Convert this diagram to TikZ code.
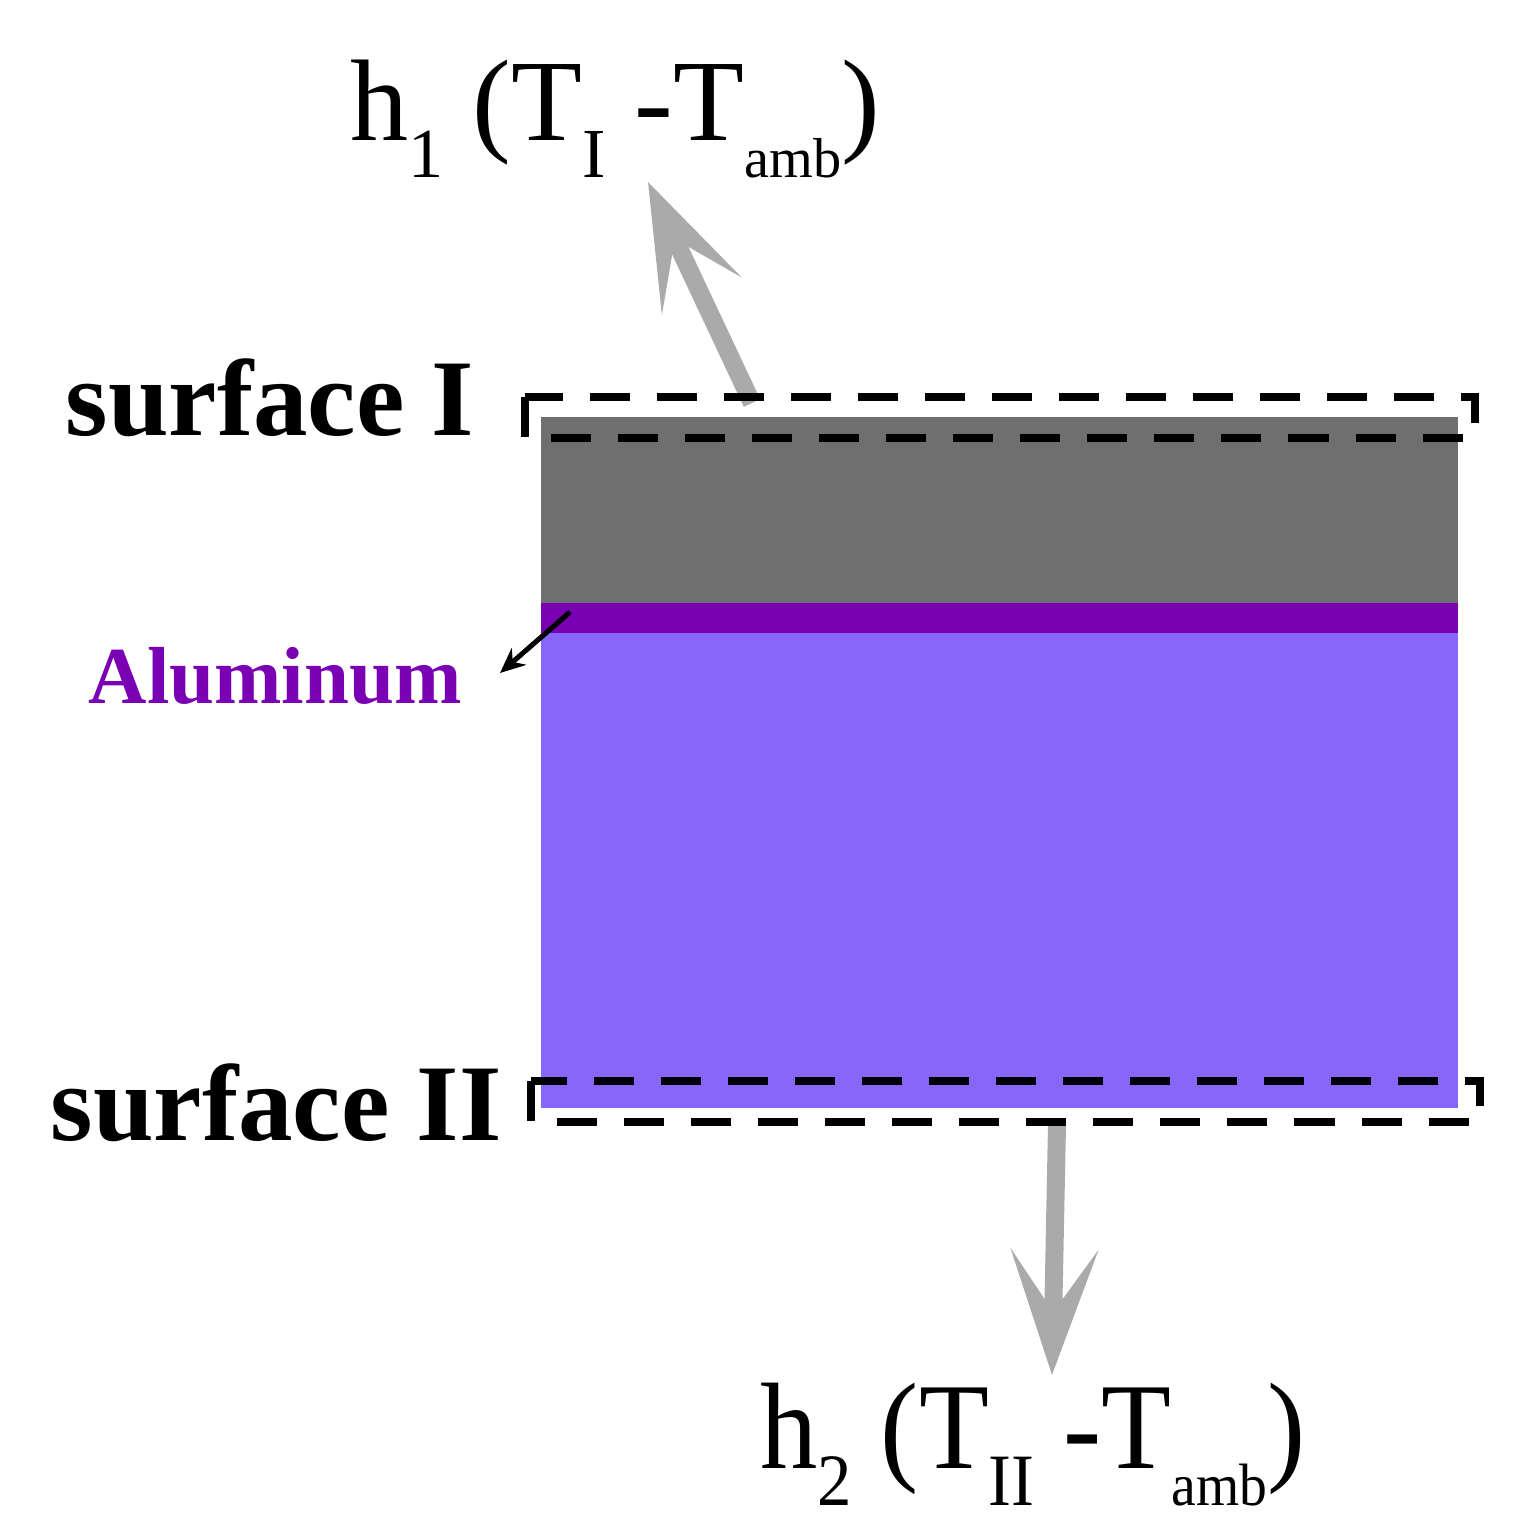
\documentclass[tikz,border=0pt]{standalone}
\usepackage{fontspec}
\setmainfont{Liberation Serif}
\usepackage{graphicx}
\usetikzlibrary{arrows.meta}

\definecolor{topgray}{RGB}{111,111,111}
\definecolor{alband}{RGB}{122,0,180}
\definecolor{baselayer}{RGB}{137,102,250}
\definecolor{heatgray}{RGB}{170,170,170}

\newcommand{\lowsub}[2]{\raisebox{-0.37cm}{\fontsize{#1}{#1}\selectfont #2}}

\begin{document}
\begin{tikzpicture}[x=0.01cm,y=-0.01cm,
  dashbox/.style={draw=black,line width=0.085cm,dash pattern=on 0.4cm off 0.27cm},
  heatflow/.style={heatgray,line width=0.18cm,-{Stealth[length=1.25cm,width=0.87cm,inset=0.62cm]}},
  txt/.style={inner sep=0pt,anchor=base west}]
       \useasboundingbox (0,0) rectangle (1516,1533);
       % Draw the layers
       \fill[topgray] (541,417) rectangle (1458,603);
       \fill[alband] (541,603) rectangle (1458,633);
       \fill[baselayer] (541,633) rectangle (1458,1108);
       % Labels
       \node[txt] (surf_1) at (65,435) {\fontsize{31}{31}\selectfont\bfseries surface I};
       \node[txt] (surf_2) at (50,1140) {\fontsize{31}{31}\selectfont\bfseries surface II};
       \node[txt,text=alband] (al) at (88,703) {\fontsize{23}{23}\selectfont\bfseries Aluminum};
       \node[txt] (flux_1) at (350,140) {\fontsize{33}{33}\selectfont h\lowsub{20}{1} (T\lowsub{20}{I} -T\lowsub{16}{amb})};
       \node[txt] (flux_2) at (760,1468) {\scalebox{0.93}[1]{\fontsize{35}{35}\selectfont h\lowsub{21}{2} (T\lowsub{21}{II} -T\lowsub{17}{amb})}};
       % Draw heat flow arrows
       \coordinate (q_1) at (752,403);
       \coordinate (q_2) at (648,182);
       \coordinate (q_3) at (1057,1125);
       \coordinate (q_4) at (1052,1375);
       \draw[heatflow] (q_1) -- (q_2);
       \draw[heatflow] (q_3) -- (q_4);
       % Pointer to the aluminum band
       \coordinate (al_1) at (570,612);
       \coordinate (al_2) at (500,673);
       \draw[line width=0.05cm,-{Stealth[length=0.25cm,width=0.22cm]}] (al_1) -- (al_2);
       % Draw the dashed surfaces
       \draw[dashbox] (525,397) coordinate (box_1) rectangle (1475,438);
       \draw[dashbox] (531,1081) coordinate (box_2) rectangle (1480,1122);
\end{tikzpicture}
\end{document}
